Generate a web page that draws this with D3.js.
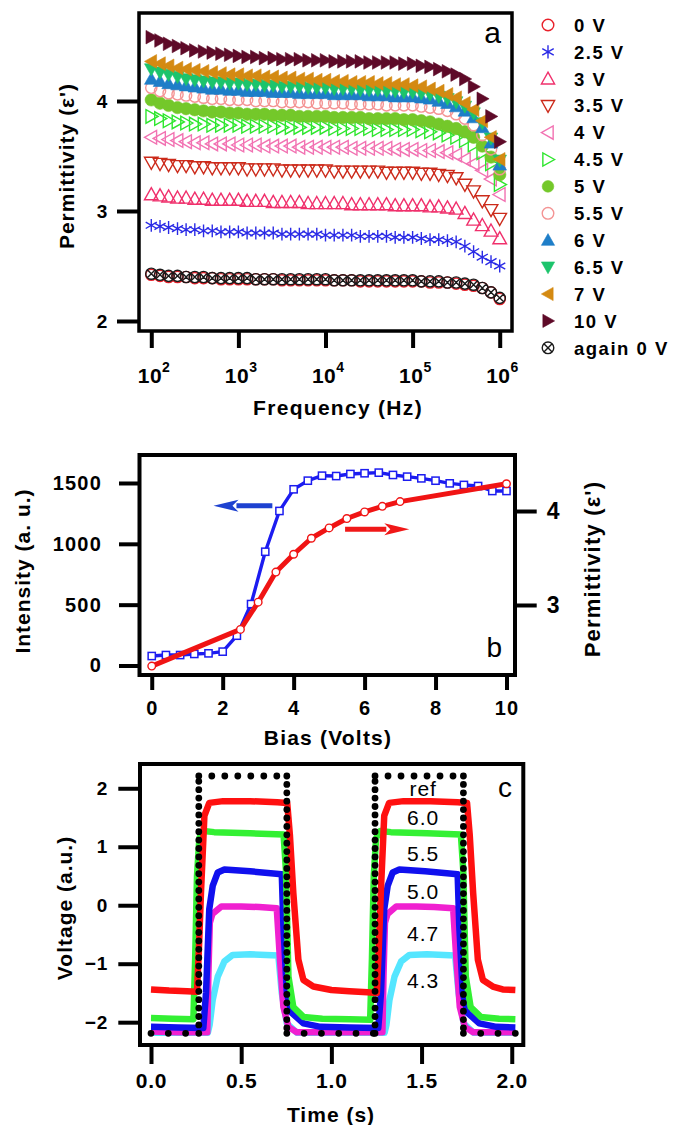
<!DOCTYPE html>
<html><head><meta charset="utf-8">
<script src="https://cdn.jsdelivr.net/npm/d3@7"></script>
<style>body{margin:0;background:#fff}svg{display:block}</style>
</head><body>
<svg id="fig" width="673" height="1125"></svg>
<script>
// ---------------- DATA ----------------
// Panel a: permittivity vs frequency at different biases
const freqHz = [100,126,158,200,251,316,398,501,631,794,
  1000,1259,1585,1995,2512,3162,3981,5012,6310,7943,
  10000,12589,15849,19953,25119,31623,39811,50119,63096,79433,
  100000,125893,158489,199526,251189,316228,398107,501187,630957,794328,
  1000000];
const eps0V = [2.42,2.41,2.40,2.40,2.40,2.39,2.39,2.39,2.38,2.38,
  2.38,2.38,2.38,2.38,2.38,2.37,2.37,2.37,2.37,2.37,
  2.37,2.37,2.37,2.37,2.36,2.36,2.36,2.36,2.36,2.36,
  2.36,2.36,2.35,2.35,2.35,2.34,2.33,2.32,2.30,2.26,
  2.20];
const eps2p5V = [2.87,2.86,2.85,2.84,2.83,2.83,2.82,2.82,2.81,2.81,
  2.81,2.80,2.80,2.80,2.80,2.79,2.79,2.79,2.79,2.79,
  2.78,2.78,2.78,2.78,2.77,2.77,2.77,2.77,2.76,2.76,
  2.76,2.75,2.74,2.74,2.73,2.72,2.68,2.63,2.58,2.54,
  2.50];
const eps3V = [3.15,3.14,3.13,3.12,3.12,3.11,3.11,3.10,3.10,3.10,
  3.10,3.09,3.09,3.09,3.08,3.08,3.08,3.08,3.07,3.07,
  3.07,3.07,3.07,3.06,3.06,3.06,3.06,3.06,3.05,3.05,
  3.05,3.05,3.04,3.04,3.03,3.02,2.98,2.92,2.87,2.82,
  2.75];
const eps3p5V = [3.44,3.43,3.42,3.41,3.41,3.40,3.40,3.39,3.39,3.39,
  3.39,3.38,3.38,3.38,3.38,3.37,3.37,3.37,3.37,3.37,
  3.37,3.36,3.36,3.36,3.36,3.36,3.36,3.35,3.35,3.35,
  3.35,3.34,3.34,3.33,3.32,3.30,3.24,3.18,3.09,3.01,
  2.93];
const eps4V = [3.67,3.66,3.65,3.64,3.63,3.62,3.62,3.61,3.61,3.61,
  3.60,3.60,3.60,3.59,3.59,3.59,3.59,3.58,3.58,3.58,
  3.58,3.58,3.58,3.57,3.57,3.57,3.57,3.57,3.56,3.56,
  3.56,3.55,3.55,3.54,3.53,3.51,3.47,3.43,3.37,3.29,
  3.15];
const eps4p5V = [3.86,3.84,3.82,3.81,3.80,3.79,3.79,3.78,3.78,3.78,
  3.78,3.77,3.77,3.77,3.77,3.76,3.76,3.76,3.76,3.76,
  3.76,3.75,3.75,3.75,3.75,3.75,3.74,3.74,3.74,3.74,
  3.74,3.73,3.72,3.71,3.69,3.67,3.64,3.60,3.53,3.43,
  3.24];
const eps5V = [4.01,3.98,3.96,3.94,3.93,3.92,3.91,3.90,3.90,3.89,
  3.89,3.88,3.88,3.88,3.87,3.87,3.87,3.86,3.86,3.86,
  3.86,3.85,3.85,3.85,3.85,3.84,3.84,3.84,3.84,3.83,
  3.83,3.82,3.81,3.79,3.77,3.75,3.72,3.67,3.59,3.49,
  3.33];
const eps5p5V = [4.12,4.09,4.07,4.06,4.05,4.04,4.03,4.02,4.02,4.01,
  4.01,4.01,4.00,4.00,4.00,3.99,3.99,3.99,3.99,3.98,
  3.98,3.98,3.98,3.97,3.97,3.97,3.97,3.96,3.96,3.96,
  3.96,3.95,3.94,3.93,3.91,3.88,3.84,3.78,3.69,3.56,
  3.38];
const eps6V = [4.20,4.18,4.16,4.15,4.14,4.13,4.12,4.11,4.11,4.10,
  4.10,4.09,4.09,4.09,4.08,4.08,4.08,4.07,4.07,4.07,
  4.07,4.06,4.06,4.06,4.06,4.05,4.05,4.05,4.04,4.04,
  4.04,4.03,4.02,4.00,3.98,3.95,3.91,3.85,3.76,3.62,
  3.42];
const eps6p5V = [4.29,4.26,4.24,4.22,4.20,4.19,4.18,4.17,4.17,4.16,
  4.16,4.15,4.15,4.14,4.14,4.13,4.13,4.13,4.12,4.12,
  4.12,4.11,4.11,4.11,4.10,4.10,4.10,4.09,4.09,4.08,
  4.08,4.07,4.06,4.04,4.02,3.99,3.95,3.89,3.80,3.66,
  3.46];
const eps7V = [4.36,4.34,4.32,4.30,4.29,4.28,4.27,4.26,4.25,4.24,
  4.24,4.23,4.23,4.22,4.22,4.21,4.21,4.20,4.20,4.19,
  4.19,4.18,4.18,4.17,4.17,4.17,4.16,4.16,4.15,4.15,
  4.14,4.13,4.11,4.09,4.06,4.03,3.98,3.92,3.82,3.67,
  3.47];
const eps10V = [4.58,4.55,4.52,4.50,4.48,4.46,4.45,4.44,4.43,4.42,
  4.41,4.40,4.40,4.39,4.39,4.38,4.38,4.38,4.37,4.37,
  4.37,4.36,4.36,4.36,4.36,4.35,4.35,4.35,4.35,4.34,
  4.34,4.32,4.31,4.29,4.27,4.24,4.20,4.13,4.02,3.86,
  3.63];
const epsAgain0V = [2.43,2.42,2.41,2.41,2.40,2.40,2.40,2.39,2.39,2.39,
  2.39,2.39,2.38,2.38,2.38,2.38,2.38,2.38,2.38,2.38,
  2.38,2.37,2.37,2.37,2.37,2.37,2.37,2.37,2.37,2.37,
  2.37,2.36,2.36,2.36,2.35,2.35,2.34,2.33,2.30,2.26,
  2.21];
const legendNames = ["0 V","2.5 V","3 V","3.5 V","4 V","4.5 V","5 V","5.5 V","6 V","6.5 V","7 V","10 V","again 0 V"];
const freqTicks = [1e2,1e3,1e4,1e5,1e6];
const freqTickExp = ["2","3","4","5","6"];
const epsTicksA = [2,3,4];

// Panel b: intensity and permittivity vs bias
const biasI = [0,0.4,0.8,1.2,1.6,2.0,2.4,2.8,3.2,3.6,4.0,4.4,4.8,5.2,5.6,6.0,6.4,6.8,7.2,7.6,8.0,8.4,8.8,9.2,9.6,10];
const intensity = [78,86,86,95,100,114,245,505,935,1270,1448,1519,1560,1557,1574,1580,1585,1566,1552,1538,1519,1497,1484,1475,1434,1434];
const biasE = [0,2.5,3,3.5,4,4.5,5,5.5,6,6.5,7,10];
const permB = [2.35,2.74,3.03,3.35,3.54,3.71,3.82,3.92,3.99,4.05,4.10,4.29];
const biasTicks = [0,2,4,6,8,10];
const intTicks = [0,500,1000,1500];
const permTicksB = [3,4];

// Panel c: voltage traces vs time
const refT = [0,0.265,0.265,0.753,0.753,1.242,1.242,1.732,1.732,2.03];
const refV = [-2.19,-2.19,2.21,2.21,-2.19,-2.19,2.21,2.21,-2.19,-2.19];
const t60 = [0,0.10,0.20,0.255,0.265,0.277,0.296,0.323,0.40,0.55,0.70,0.755,0.770,0.789,0.817,0.845,0.90,1.00,1.10,1.20,1.252,1.262,1.274,1.293,1.320,1.40,1.55,1.70,1.752,1.767,1.786,1.812,1.840,1.895,1.95,2.02];
const v60 = [-1.44,-1.46,-1.47,-1.48,-0.80,0.21,1.53,1.75,1.78,1.78,1.76,1.75,1.20,0.21,-0.93,-1.28,-1.39,-1.45,-1.47,-1.49,-1.50,-0.80,0.21,1.53,1.75,1.78,1.78,1.76,1.75,1.20,0.21,-0.93,-1.28,-1.39,-1.44,-1.45];
const t55 = [0,0.12,0.235,0.245,0.255,0.268,0.29,0.35,0.55,0.735,0.748,0.762,0.789,0.845,0.95,1.10,1.215,1.225,1.235,1.248,1.27,1.33,1.53,1.718,1.731,1.745,1.772,1.828,1.93,2.02];
const v55 = [-1.93,-1.94,-1.95,-0.90,0.50,1.15,1.27,1.25,1.23,1.21,0.60,-1.22,-1.74,-1.91,-1.94,-1.95,-1.96,-0.90,0.50,1.15,1.27,1.25,1.23,1.21,0.60,-1.22,-1.74,-1.91,-1.94,-1.95];
const t50 = [0,0.15,0.29,0.305,0.323,0.342,0.37,0.407,0.55,0.725,0.734,0.753,0.78,0.845,0.94,1.10,1.26,1.275,1.293,1.312,1.34,1.377,1.52,1.70,1.709,1.728,1.755,1.82,1.915,2.02];
const v50 = [-2.08,-2.09,-2.10,-1.50,-0.07,0.33,0.56,0.61,0.58,0.53,-0.35,-1.50,-1.84,-2.02,-2.08,-2.09,-2.10,-1.50,-0.07,0.33,0.56,0.61,0.58,0.53,-0.35,-1.50,-1.84,-2.02,-2.08,-2.09];
const t47 = [0,0.15,0.312,0.318,0.326,0.34,0.39,0.50,0.60,0.697,0.715,0.734,0.762,0.808,1.0,1.283,1.289,1.297,1.311,1.36,1.47,1.57,1.675,1.693,1.712,1.74,1.786,2.02];
const v47 = [-2.16,-2.17,-2.17,-1.20,-0.30,-0.15,-0.02,-0.02,-0.03,-0.05,-0.93,-1.74,-2.08,-2.17,-2.17,-2.17,-1.20,-0.30,-0.15,-0.02,-0.02,-0.03,-0.05,-0.93,-1.74,-2.08,-2.17,-2.17];
const t43 = [0,0.315,0.325,0.342,0.37,0.407,0.453,0.55,0.706,0.725,0.753,0.808,1.0,1.295,1.305,1.322,1.35,1.387,1.433,1.53,1.686,1.705,1.733,1.788,2.02];
const v43 = [-2.18,-2.18,-2.05,-1.62,-1.22,-0.96,-0.85,-0.84,-0.86,-1.50,-2.02,-2.18,-2.18,-2.18,-2.05,-1.62,-1.22,-0.96,-0.85,-0.84,-0.86,-1.50,-2.02,-2.18,-2.18];
const traceLabels = ["ref","6.0","5.5","5.0","4.7","4.3"];
const traceLabelV = [1.87,1.37,0.755,0.11,-0.605,-1.418];
const timeTicks = [0,0.5,1.0,1.5,2.0];
const voltTicks = [-2,-1,0,1,2];

// ---------------- DRAWING ----------------
const FONT = '"Liberation Sans", Arial, Helvetica, sans-serif';
const svg = d3.select("#fig");

function txt(g, x, y, s, o = {}) {
  const t = g.append("text").attr("x", x).attr("y", y).text(s)
    .attr("font-family", FONT).attr("font-size", o.fs || 20)
    .attr("font-weight", o.bold === false ? "normal" : "bold")
    .attr("text-anchor", o.anchor || "middle")
    .attr("letter-spacing", o.ls == null ? 1 : o.ls)
    .attr("fill", o.fill || "#000");
  if (o.rot) t.attr("x", 0).attr("y", 0).attr("transform", `translate(${x},${y}) rotate(${o.rot})`);
  return t;
}
function styleAxis(g, fs, ls, tw) {
  g.select(".domain").remove();
  g.selectAll(".tick line").attr("stroke", "#000").attr("stroke-width", tw || 4);
  g.selectAll(".tick text").attr("font-family", FONT).attr("font-size", fs)
    .attr("font-weight", "bold").attr("fill", "#000").attr("letter-spacing", ls == null ? 0.8 : ls);
}
function frame(x0, y0, x1, y1, w) {
  svg.append("rect").attr("x", x0).attr("y", y0).attr("width", x1 - x0).attr("height", y1 - y0)
    .attr("fill", "none").attr("stroke", "#000").attr("stroke-width", w);
}
function markerPath(sym, r) {
  const c = `M${r},0A${r},${r},0,1,1,${-r},0A${r},${r},0,1,1,${r},0Z`;
  const h = r * 0.78, w = r * 1.0, k = r * 0.707;
  switch (sym) {
    case "circle": return c;
    case "circlex": return c + `M${-k},${-k}L${k},${k}M${k},${-k}L${-k},${k}`;
    case "star": return `M0,${-r}L0,${r}M${-0.87*r},${-0.5*r}L${0.87*r},${0.5*r}M${-0.87*r},${0.5*r}L${0.87*r},${-0.5*r}`;
    case "up": return `M0,${-r}L${w},${h}L${-w},${h}Z`;
    case "down": return `M0,${r}L${w},${-h}L${-w},${-h}Z`;
    case "left": return `M${-r},0L${h},${-w}L${h},${w}Z`;
    case "right": return `M${r},0L${-h},${-w}L${-h},${w}Z`;
  }
}
function markerSize(s, legend) {
  if (s.sym === "circle" || s.sym === "circlex") return legend ? 5.8 : (s.fill ? 6.2 : 5.6);
  if (s.sym === "star") return legend ? 6.6 : 6.4;
  return legend ? 6.6 : 6.8;
}

// ===== Panel a =====
(function () {
  const L = 139, R = 512, T = 13, B = 331;
  const x = d3.scaleLog().domain([Math.pow(10, 1.859), Math.pow(10, 6.141)]).range([L, R]);
  const y = d3.scaleLinear().domain([1.909, 4.8]).range([B, T]);
  const series = [
    { v: eps0V, sym: "circle", color: "#e8202a", fill: false },
    { v: eps2p5V, sym: "star", color: "#2a2ae6", fill: false },
    { v: eps3V, sym: "up", color: "#f0306c", fill: false },
    { v: eps3p5V, sym: "down", color: "#cc2a1a", fill: false },
    { v: eps4V, sym: "left", color: "#f272b2", fill: false },
    { v: eps4p5V, sym: "right", color: "#2ee62e", fill: false },
    { v: eps5V, sym: "circle", color: "#74c82a", fill: true },
    { v: eps5p5V, sym: "circle", color: "#f49494", fill: false },
    { v: eps6V, sym: "up", color: "#1e7ec8", fill: true },
    { v: eps6p5V, sym: "down", color: "#1cc46c", fill: true },
    { v: eps7V, sym: "left", color: "#d48a12", fill: true },
    { v: eps10V, sym: "right", color: "#5e0a28", fill: true },
    { v: epsAgain0V, sym: "circlex", color: "#1a1a1a", fill: false }
  ];
  const gData = svg.append("g");
  series.forEach(s => {
    gData.append("g").selectAll("path").data(s.v).join("path")
      .attr("transform", (d, i) => `translate(${x(freqHz[i])},${y(d)})`)
      .attr("d", markerPath(s.sym, markerSize(s, false)))
      .attr("fill", s.fill ? s.color : "none")
      .attr("stroke", s.color).attr("stroke-width", s.fill ? 0.6 : 1.4);
  });
  frame(L, T, R, B, 3.5);
  const ay = svg.append("g").attr("transform", `translate(${L},0)`)
    .call(d3.axisLeft(y).tickValues(epsTicksA).tickSize(22).tickPadding(9).tickFormat(d3.format("d")));
  styleAxis(ay, 19);
  const ax = svg.append("g").attr("transform", `translate(0,${B})`)
    .call(d3.axisBottom(x).tickValues(freqTicks).tickSize(17).tickFormat(""));
  styleAxis(ax, 21);
  ax.selectAll(".tick").each(function (d, i) {
    const t = d3.select(this).append("text").attr("x", 2).attr("y", 52)
      .attr("font-family", FONT).attr("font-weight", "bold").attr("font-size", 21)
      .attr("text-anchor", "middle").attr("fill", "#000");
    t.append("tspan").text("10").attr("letter-spacing", 0.5);
    t.append("tspan").text(freqTickExp[i]).attr("font-size", 14).attr("dy", -11);
  });
  txt(svg, 338, 415, "Frequency (Hz)", { fs: 21, ls: 1.3 });
  txt(svg, 74, 166, "Permittivity (ε')", { fs: 21, rot: -90, ls: 1 });
  txt(svg, 501, 43, "a", { fs: 30, bold: false, anchor: "end", ls: 0 });
  // legend
  const lg = svg.append("g");
  series.forEach((s, i) => {
    const cy = 25 + i * 26.9;
    lg.append("path").attr("transform", `translate(548,${cy})`)
      .attr("d", markerPath(s.sym, markerSize(s, true)))
      .attr("fill", s.fill ? s.color : "none").attr("stroke", s.color)
      .attr("stroke-width", s.fill ? 0.6 : 1.4);
    txt(lg, 574, cy + 6.7, legendNames[i], { fs: 18.5, anchor: "start", ls: 1.5 });
  });
})();

// ===== Panel b =====
(function () {
  const L = 139.5, R = 515, T = 455, B = 675;
  const x = d3.scaleLinear().domain([-0.345, 10.24]).range([L, R]);
  const yI = d3.scaleLinear().domain([-78, 1730]).range([B, T]);
  const yE = d3.scaleLinear().domain([2.255, 4.596]).range([B, T]);
  const g = svg.append("g");
  g.append("path").datum(intensity)
    .attr("d", d3.line().x((d, i) => x(biasI[i])).y(d => yI(d)))
    .attr("fill", "none").attr("stroke", "#1c1cf0").attr("stroke-width", 3.4).attr("stroke-linejoin", "round");
  g.selectAll("rect.sq").data(intensity).join("rect").attr("class", "sq")
    .attr("x", (d, i) => x(biasI[i]) - 3.6).attr("y", d => yI(d) - 3.6)
    .attr("width", 7.2).attr("height", 7.2)
    .attr("fill", "#fff").attr("stroke", "#1c1cf0").attr("stroke-width", 1.5);
  g.append("path").datum(permB)
    .attr("d", d3.line().x((d, i) => x(biasE[i])).y(d => yE(d)))
    .attr("fill", "none").attr("stroke", "#f01414").attr("stroke-width", 5).attr("stroke-linejoin", "round");
  g.selectAll("circle.ci").data(permB).join("circle").attr("class", "ci")
    .attr("cx", (d, i) => x(biasE[i])).attr("cy", d => yE(d)).attr("r", 3.8)
    .attr("fill", "#fff").attr("stroke", "#f01414").attr("stroke-width", 1.4);
  // arrows
  function arrow(x0, x1, yy, color) {
    const dir = Math.sign(x1 - x0), head = 25;
    g.append("line").attr("x1", x0).attr("x2", x1 - dir * (head - 2)).attr("y1", yy).attr("y2", yy)
      .attr("stroke", color).attr("stroke-width", 5);
    g.append("path").attr("d", `M${x1},${yy}L${x1 - dir * head},${yy - 6}L${x1 - dir * (head - 6)},${yy}L${x1 - dir * head},${yy + 6}Z`)
      .attr("fill", color);
  }
  arrow(x(3.40), x(1.74), yI(1313), "#1e42d0");
  arrow(x(5.45), x(7.26), yE(3.805), "#f01818");
  frame(L, T, R, B, 4);
  const ayl = svg.append("g").attr("transform", `translate(${L},0)`)
    .call(d3.axisLeft(yI).tickValues(intTicks).tickSize(20.5).tickPadding(17).tickFormat(d3.format("d")));
  styleAxis(ayl, 20, 1.2);
  const ayr = svg.append("g").attr("transform", `translate(${R},0)`)
    .call(d3.axisRight(yE).tickValues(permTicksB).tickSize(21.7).tickPadding(10).tickFormat(d3.format("d")));
  styleAxis(ayr, 23);
  const ax = svg.append("g").attr("transform", `translate(0,${B})`)
    .call(d3.axisBottom(x).tickValues(biasTicks).tickSize(15).tickPadding(11).tickFormat(d3.format("d")));
  styleAxis(ax, 20, 1);
  txt(svg, 328, 745, "Bias (Volts)", { fs: 21, ls: 1.2 });
  txt(svg, 30, 571, "Intensity (a. u.)", { fs: 21, rot: -90, ls: 1 });
  txt(svg, 600, 569, "Permittivity (ε')", { fs: 22, rot: -90, ls: 1.2 });
  txt(svg, 502, 657, "b", { fs: 28, bold: false, anchor: "end", ls: 0 });
})();

// ===== Panel c =====
(function () {
  const L = 140, R = 523.3, T = 764, B = 1045;
  const x = d3.scaleLinear().domain([-0.061, 2.064]).range([L, R]);
  const y = d3.scaleLinear().domain([-2.39, 2.415]).range([B, T]);
  const g = svg.append("g");
  const traces = [
    { t: t43, v: v43, color: "#55e6ff" },
    { t: t47, v: v47, color: "#f020d0" },
    { t: t50, v: v50, color: "#1010ee" },
    { t: t55, v: v55, color: "#33f033" },
    { t: t60, v: v60, color: "#ff1010" }
  ];
  traces.forEach(tr => {
    g.append("path").datum(tr.v)
      .attr("d", d3.line().x((d, i) => x(tr.t[i])).y(d => y(d)))
      .attr("fill", "none").attr("stroke", tr.color).attr("stroke-width", 6.5)
      .attr("stroke-linejoin", "round");
  });
  // reference square wave as dotted line
  for (let i = 0; i < refT.length - 1; i++) {
    const vertical = refT[i] === refT[i + 1];
    const gap = vertical ? 8.4 : (refV[i] > 0 ? 13 : 17.3);
    g.append("line").attr("x1", x(refT[i])).attr("y1", y(refV[i]))
      .attr("x2", x(refT[i + 1])).attr("y2", y(refV[i + 1]))
      .attr("stroke", "#000").attr("stroke-width", 6.8).attr("stroke-linecap", "round")
      .attr("stroke-dasharray", `0 ${gap}`);
  }
  traceLabels.forEach((s, i) => {
    txt(g, x(1.509), y(traceLabelV[i]), s, { fs: 21, bold: false, ls: 1 });
  });
  frame(L, T, R, B, 4);
  const ay = svg.append("g").attr("transform", `translate(${L},0)`)
    .call(d3.axisLeft(y).tickValues(voltTicks).tickSize(21.7).tickPadding(10).tickFormat(d3.format("d")));
  styleAxis(ay, 19, 1);
  const ax = svg.append("g").attr("transform", `translate(0,${B})`)
    .call(d3.axisBottom(x).tickValues(timeTicks).tickSize(19).tickPadding(9).tickFormat(d3.format(".1f")));
  styleAxis(ax, 21, 0.8);
  txt(svg, 331, 1121.7, "Time (s)", { fs: 21, ls: 1 });
  txt(svg, 72, 908, "Voltage (a.u.)", { fs: 21, rot: -90, ls: 1 });
  txt(svg, 512, 797, "c", { fs: 28, bold: false, anchor: "end", ls: 0 });
})();
</script>
</body></html>
